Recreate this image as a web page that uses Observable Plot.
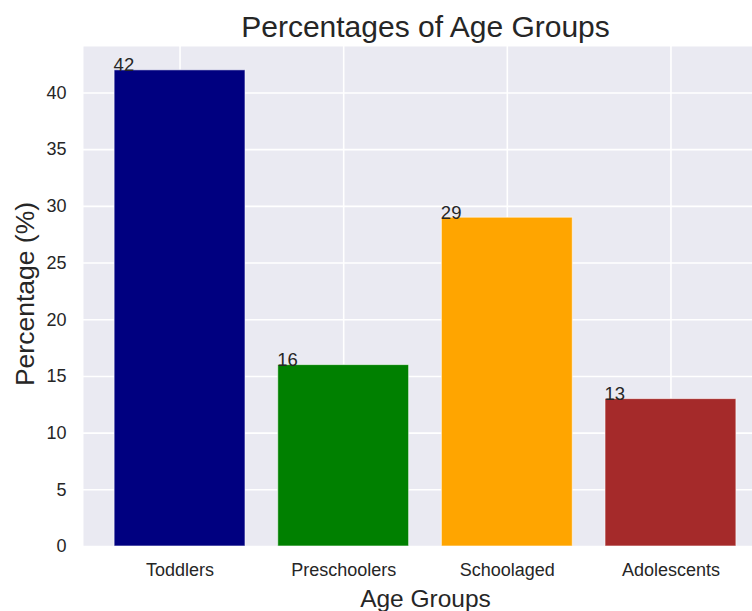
<!DOCTYPE html>
<html><head><meta charset="utf-8">
<script src="https://cdn.jsdelivr.net/npm/d3@7"></script>
<script src="https://cdn.jsdelivr.net/npm/@observablehq/plot@0.6"></script>
<style>
html,body{margin:0;padding:0;background:#fff;}
#chart{width:752px;height:611px;overflow:hidden;}
</style></head><body><div id="chart"></div>
<script>
const categories = ["Toddlers", "Preschoolers", "Schoolaged", "Adolescents"];
const percentages = [42, 16, 29, 13];
const barColors = ["navy", "green", "orange", "brown"];
const yTicks = [0, 5, 10, 15, 20, 25, 30, 35, 40];
const titleText = "Percentages of Age Groups";
const xLabel = "Age Groups";
const yLabel = "Percentage (%)";

const data = categories.map((c, i) => ({category: c, value: percentages[i], color: barColors[i]}));

const W = 752, H = 611;
const plotLeft = 83, plotRight = 767, plotTop = 46, plotBottom = 546;
const paddingInner = 0.2, paddingOuter = 0.19;
const step = (plotRight - plotLeft) / (categories.length - paddingInner + 2 * paddingOuter);
const bandwidth = step * (1 - paddingInner);
const yMax = d3.max(percentages) * 1.05;
const centerShift = (plotRight - W) / 2;
const ink = "#262626";

const plot = Plot.plot({
  width: W, height: H,
  marginLeft: plotLeft, marginRight: 0, marginTop: plotTop, marginBottom: H - plotBottom,
  style: {fontFamily: "'Liberation Sans', Arial, sans-serif", background: "white", overflow: "hidden", color: ink},
  x: {domain: categories, range: [plotLeft, plotRight], paddingInner, paddingOuter, round: false, label: null},
  y: {domain: [0, yMax], range: [plotBottom, plotTop], label: null},
  color: {type: "identity"},
  marks: [
    Plot.frame({fill: "#EAEAF2", stroke: "none"}),
    Plot.gridY(yTicks, {stroke: "white", strokeOpacity: 1, strokeWidth: 1.6}),
    Plot.gridX({stroke: "white", strokeOpacity: 1, strokeWidth: 1.6}),
    Plot.barY(data, {x: "category", y: "value", fill: "color", stroke: "white", strokeWidth: 1, strokeOpacity: 0.6}),
    Plot.text(data, {x: "category", y: "value", text: d => String(d.value), textAnchor: "start", lineAnchor: "bottom", dx: -bandwidth / 2 - 1, dy: 1, fontSize: 18.5, fill: ink}),
    Plot.axisY(yTicks, {tickSize: 0, tickPadding: 17, fontSize: 18, label: null, tickFormat: d => String(d)}),
    Plot.axisX({tickSize: 0, tickPadding: 17, fontSize: 18, label: null}),
    Plot.text([titleText], {frameAnchor: "top", lineAnchor: "bottom", dy: -10, dx: centerShift, fontSize: 30, fill: ink}),
    Plot.text([xLabel], {frameAnchor: "bottom", lineAnchor: "bottom", dy: 60, dx: centerShift, fontSize: 24.5, fill: ink}),
    Plot.text([yLabel], {frameAnchor: "left", textAnchor: "middle", lineAnchor: "middle", rotate: -90, dx: 25 - plotLeft, dy: -2.5, fontSize: 26.5, fill: ink})
  ]
});
document.getElementById("chart").appendChild(plot);
</script></body></html>
